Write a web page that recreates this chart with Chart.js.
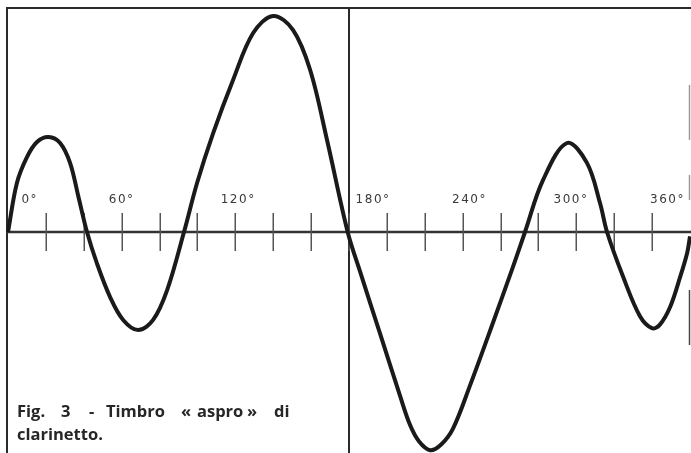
<!DOCTYPE html>
<html>
<head>
<meta charset="utf-8">
<script src="https://cdn.jsdelivr.net/npm/chart.js@4/dist/chart.umd.min.js"></script>
<style>
  html, body { margin: 0; padding: 0; background: #fff; }
  #wrap { width: 691px; height: 453px; position: relative; }
</style>
</head>
<body>
<div id="wrap"><canvas id="wave"></canvas></div>
<script>
// forma d'onda (gradi, ampiezza relativa)
const degrees = [0, 4.7, 10, 15.3, 21.4, 27.5, 32.8, 37.2, 41.7, 46.9, 53.9, 60.8, 68.7,
  76.6, 84, 92.9, 99.8, 108.3, 118.8, 129.4, 140, 150.5, 159.5, 168.4, 179.3,
  185.9, 196.4, 207, 212.3, 217, 222.8, 228.5, 234.9, 243.9, 256, 266.6, 272.9,
  282.4, 295.1, 305.6, 312.5, 316.2, 324.6, 333.6, 339.9, 344, 349.5, 354.8, 358.5, 360];
const amplitude = [0, 22.7, 34.7, 41.7, 44, 41.2, 31.9, 16.2, 0, -14.4, -30.1, -40.7, -45.4,
  -40.7, -26.9, 0, 22.7, 45.8, 70.4, 92.1, 100, 93.5, 75, 42.6, 0,
  -18.5, -47, -76, -89.5, -97, -101, -98.5, -91, -71, -42, -16, 0,
  24, 41.2, 32, 13.4, 0, -20.5, -39, -44.5, -43, -34.7, -20.8, -9.7, -2];

// tacche ogni 20 gradi
const tickDegrees = [20, 40, 60, 80, 100, 120, 140, 160, 180, 200, 220, 240, 260, 280, 300, 320, 340];
// etichette dell'asse e punto (in gradi) dove sono centrate nella figura
const tickLabels = ["0°", "60°", "120°", "180°", "240°", "300°", "360°"];
const labelDegrees = [11.5, 60, 121.5, 192.7, 243.6, 297.2, 348.1];

const captionLine1 = ["Fig.", "3", "-", "Timbro", "«", "aspro", "»", "di"];
const captionLine2 = ["clarinetto."];

const points = degrees.map((d, i) => ({ x: d, y: amplitude[i] }));

// cornice, asse, tacche ed etichette
const figurePlugin = {
  id: "figure",
  beforeDatasetsDraw(chart) {
    const { ctx, chartArea, scales } = chart;
    const xs = scales.x, ys = scales.y;
    const y0 = ys.getPixelForValue(0);
    ctx.save();
    ctx.strokeStyle = "#2a2a2a";
    ctx.lineCap = "butt";

    // bordo sinistro e superiore
    ctx.lineWidth = 2;
    ctx.beginPath();
    ctx.moveTo(chartArea.left - 1, chartArea.top);
    ctx.lineTo(chartArea.left - 1, chart.height);
    ctx.moveTo(chartArea.left - 2, chartArea.top);
    ctx.lineTo(chart.width, chartArea.top);
    ctx.stroke();

    // linea verticale a 180°
    const x180 = xs.getPixelForValue(180);
    ctx.beginPath();
    ctx.moveTo(x180, chartArea.top);
    ctx.lineTo(x180, chart.height);
    ctx.stroke();

    // resti del bordo destro
    ctx.strokeStyle = "#9a9a9a";
    ctx.lineWidth = 1.5;
    ctx.beginPath();
    ctx.moveTo(chart.width - 1.5, 85);
    ctx.lineTo(chart.width - 1.5, 140);
    ctx.moveTo(chart.width - 1.5, 175);
    ctx.lineTo(chart.width - 1.5, 200);
    ctx.stroke();
    ctx.strokeStyle = "#444";
    ctx.beginPath();
    ctx.moveTo(chart.width - 1.5, 290);
    ctx.lineTo(chart.width - 1.5, 345);
    ctx.stroke();

    // asse orizzontale
    ctx.lineWidth = 2.5;
    ctx.strokeStyle = "#333";
    ctx.beginPath();
    ctx.moveTo(chartArea.left - 2, y0);
    ctx.lineTo(chart.width, y0);
    ctx.stroke();

    // tacche
    ctx.lineWidth = 1.5;
    ctx.strokeStyle = "#555";
    ctx.beginPath();
    tickDegrees.forEach((d) => {
      const x = Math.round(xs.getPixelForValue(d)) + 0.25;
      ctx.moveTo(x, y0 - 19);
      ctx.lineTo(x, y0 + 19);
    });
    ctx.stroke();

    // etichette
    ctx.fillStyle = "#3a3a3a";
    ctx.font = "12px 'DejaVu Sans'";
    ctx.letterSpacing = "1.5px";
    ctx.textAlign = "center";
    ctx.textBaseline = "middle";
    tickLabels.forEach((t, i) => {
      ctx.fillText(t, xs.getPixelForValue(labelDegrees[i]), y0 - 32);
    });
    ctx.restore();
  },
  afterDraw(chart) {
    const { ctx } = chart;
    // didascalia: parole distribuite come nella stampa
    const wordX = [17, 61, 89, 106, 181, 197, 247, 274];
    ctx.save();
    ctx.fillStyle = "#262626";
    ctx.font = "bold 16.5px 'Open Sans'";
    ctx.textAlign = "left";
    ctx.textBaseline = "alphabetic";
    captionLine1.forEach((w, i) => ctx.fillText(w, wordX[i], 417));
    captionLine2.forEach((w) => ctx.fillText(w, 17, 440));
    ctx.restore();
  },
};

const ctx = document.getElementById("wave").getContext("2d");
new Chart(ctx, {
  type: "line",
  data: {
    datasets: [
      {
        data: points,
        borderColor: "#1a1a1a",
        borderWidth: 4,
        pointRadius: 0,
        tension: 0.35,
        fill: false,
        clip: false,
      },
    ],
  },
  options: {
    responsive: true,
    maintainAspectRatio: false,
    animation: false,
    layout: { padding: { left: 8, right: 1, top: 8, bottom: 0 } },
    plugins: {
      legend: { display: false },
      tooltip: { enabled: false },
    },
    scales: {
      x: { type: "linear", min: 0, max: 360, display: false },
      y: { min: -102.3, max: 103.7, display: false },
    },
  },
  plugins: [figurePlugin],
});
</script>
</body>
</html>
